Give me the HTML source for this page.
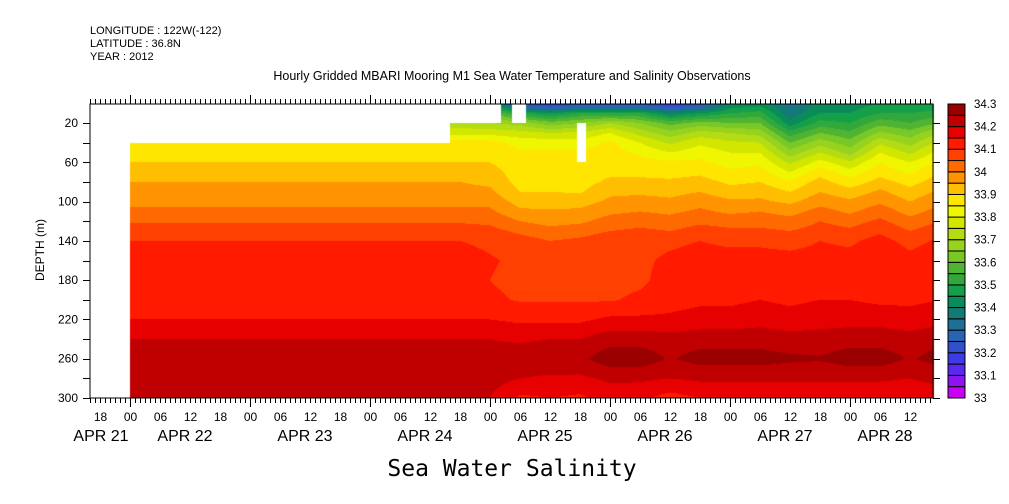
<!DOCTYPE html>
<html><head><meta charset="utf-8">
<style>
html,body{margin:0;padding:0;background:#fff;}
#wrap{position:relative;width:1009px;height:504px;overflow:hidden;font-family:"Liberation Sans",sans-serif;}
svg text{font-family:"Liberation Sans",sans-serif;fill:#000;}
canvas{position:absolute;left:0;top:0;}
</style></head>
<body>
<div id="wrap">
<canvas id="cv" width="1009" height="504"></canvas>
<svg id="sv" width="1009" height="504" style="position:absolute;left:0;top:0">
<text x="90" y="34" font-size="11">LONGITUDE : 122W(-122)</text>
<text x="90" y="47" font-size="11">LATITUDE : 36.8N</text>
<text x="90" y="60" font-size="11">YEAR : 2012</text>
<text x="512" y="80" font-size="12.5" text-anchor="middle">Hourly Gridded MBARI Mooring M1 Sea Water Temperature and Salinity Observations</text>
<text x="512" y="476" font-size="23" text-anchor="middle" style="font-family:'DejaVu Sans Mono','Liberation Mono',monospace">Sea Water Salinity</text>
<text transform="translate(44,250) rotate(-90)" font-size="12" text-anchor="middle">DEPTH (m)</text>
<g id="axes"></g>
<g id="cbar"></g>
</svg>
</div>
<script>
// ---- data ----
const depths = [0,10,20,30,40,50,60,70,80,90,100,110,120,130,140,160,180,200,220,240,260,280,300];
// hours since APR 22 00
const times = [0,60,66,72,78,84,90,96,102,108,114,120,126,132,138,144,150,156,162];
const early = [33.7,33.7,33.72,33.78,33.87,33.885,33.9,33.925,33.95,33.965,33.99,34.01,34.045,34.07,34.1,34.12,34.125,34.13,34.15,34.2,34.22,34.23,34.23];
const col72 = [33.45,33.6,33.7,33.78,33.87,33.885,33.9,33.92,33.94,33.96,33.985,34.01,34.04,34.065,34.09,34.105,34.1,34.11,34.15,34.2,34.22,34.22,34.2];
const col78 = [33.2,33.5,33.68,33.77,33.83,33.86,33.87,33.875,33.88,33.9,33.93,33.96,34.0,34.04,34.07,34.09,34.085,34.095,34.14,34.19,34.24,34.2,34.14];
const col84 = [33.15,33.45,33.62,33.75,33.83,33.86,33.87,33.875,33.885,33.9,33.93,33.955,33.98,34.02,34.05,34.09,34.08,34.095,34.14,34.2,34.245,34.19,34.15];
const col90 = [33.2,33.5,33.65,33.76,33.82,33.86,33.87,33.88,33.88,33.895,33.93,33.96,33.99,34.03,34.06,34.09,34.08,34.095,34.14,34.2,34.24,34.19,34.14];
const col96 = [33.2,33.5,33.7,33.8,33.86,33.87,33.88,33.89,33.91,33.94,33.96,33.99,34.02,34.05,34.08,34.09,34.085,34.095,34.16,34.23,34.28,34.21,34.17];
const col102 = [33.2,33.5,33.65,33.73,33.8,33.84,33.87,33.89,33.91,33.94,33.97,34.0,34.03,34.06,34.08,34.09,34.09,34.11,34.16,34.23,34.28,34.21,34.16];
const col108 = [33.15,33.4,33.58,33.67,33.74,33.8,33.86,33.88,33.91,33.935,33.96,33.99,34.02,34.05,34.09,34.11,34.12,34.13,34.16,34.22,34.245,34.2,34.13];
const col114 = [33.2,33.45,33.62,33.72,33.79,33.83,33.86,33.89,33.92,33.95,33.98,34.01,34.04,34.07,34.1,34.12,34.13,34.14,34.17,34.23,34.27,34.21,34.15];
const col120 = [33.4,33.5,33.6,33.7,33.76,33.8,33.83,33.86,33.89,33.92,33.96,33.99,34.03,34.06,34.09,34.12,34.13,34.14,34.17,34.23,34.27,34.21,34.16];
const col126 = [33.42,33.52,33.6,33.68,33.75,33.8,33.84,33.87,33.9,33.93,33.96,34.0,34.03,34.06,34.09,34.12,34.13,34.15,34.18,34.23,34.27,34.21,34.15];
const col132 = [33.33,33.36,33.42,33.52,33.6,33.67,33.74,33.8,33.86,33.9,33.94,33.98,34.02,34.05,34.08,34.12,34.13,34.14,34.17,34.22,34.26,34.21,34.15];
const col138 = [33.42,33.45,33.52,33.6,33.68,33.75,33.82,33.88,33.92,33.95,33.98,34.02,34.05,34.07,34.1,34.12,34.13,34.15,34.18,34.22,34.255,34.21,34.15];
const col144 = [33.42,33.45,33.5,33.56,33.62,33.68,33.76,33.82,33.87,33.92,33.96,33.99,34.03,34.06,34.09,34.12,34.13,34.15,34.18,34.23,34.275,34.21,34.15];
const col150 = [33.45,33.5,33.58,33.66,33.74,33.8,33.85,33.88,33.92,33.96,33.99,34.03,34.06,34.09,34.12,34.15,34.13,34.14,34.18,34.23,34.275,34.21,34.15];
const col156 = [33.45,33.5,33.55,33.62,33.68,33.74,33.8,33.84,33.88,33.92,33.95,33.98,34.02,34.05,34.08,34.12,34.13,34.14,34.17,34.22,34.245,34.2,34.15];
const col162 = [33.45,33.52,33.6,33.7,33.77,33.82,33.86,33.9,33.93,33.96,33.99,34.02,34.05,34.08,34.11,34.14,34.13,34.15,34.18,34.24,34.27,34.22,34.17];
const columns = [early,early,early,col72,col78,col84,col90,col96,col102,col108,col114,col120,col126,col132,col138,col144,col150,col156,col162];
// missing-data blocks: [t0,t1,d0,d1]
const gaps = [[0,64,0,40],[64,74.2,0,20],[76.4,79.2,0,20],[89.4,91.2,20,60]];
const levelTicks = ["33","33.1","33.2","33.3","33.4","33.5","33.6","33.7","33.8","33.9","34","34.1","34.2","34.3"];
const depthTicks = [20,60,100,140,180,220,260,300];
const dayLabels = ["APR 21","APR 22","APR 23","APR 24","APR 25","APR 26","APR 27","APR 28"];
const palette = ["#c800f5","#8c14f0","#5a28f0","#3c3ce6","#3250c8","#2864b4","#1e6e96","#147a78","#0a8c5a","#14a048","#32a83c","#50b432","#78c828","#96d21e","#b4dc14","#d2e600","#f0f500","#ffe600","#ffbf00","#ff9400","#ff6a00","#ff4000","#ff1a00","#e60000","#c00000","#9a0000"];

// ---- scales ----
const PL=90, PR=933, PT=104, PB=398;
const X0 = 130; // APR 22 00
const xOf = t => X0 + t*5;
const tOf = x => (x - X0)/5;
const yOf = d => 103.4 + d*0.982;
const dOf = y => (y - 103.4)/0.982;
const vmin=33, step=0.05;

// ---- field ----
const cv=document.getElementById('cv'), ctx=cv.getContext('2d');
ctx.fillStyle='#fff';ctx.fillRect(0,0,1009,504);
function rgb(h){return [parseInt(h.substr(1,2),16),parseInt(h.substr(3,2),16),parseInt(h.substr(5,2),16)];}
const pal=palette.map(rgb);
function seg(arr,v){let i=0;while(i<arr.length-2&&v>arr[i+1])i++;let f=(v-arr[i])/(arr[i+1]-arr[i]);return [i,Math.max(0,Math.min(1,f))];}
const img=ctx.getImageData(0,0,1009,504);
const xs=Math.max(PL,Math.ceil(xOf(times[0])));
for(let x=xs;x<=PR;x++){
  const t=tOf(x+0.5);
  const [ti,tf]=seg(times,t);
  for(let y=PT;y<PB;y++){
    const d=dOf(y+0.5);
    let gap=false;
    for(const g of gaps){if(t>=g[0]&&t<g[1]&&d>=g[2]&&d<g[3]){gap=true;break;}}
    if(gap)continue;
    const [di,df]=seg(depths,d);
    const a=columns[ti],b=columns[ti+1];
    const va=a[di]*(1-df)+a[di+1]*df, vb=b[di]*(1-df)+b[di+1]*df;
    const v=va*(1-tf)+vb*tf;
    let k=Math.floor((v-vmin)/step);k=Math.max(0,Math.min(pal.length-1,k));
    const c=pal[k],p=(y*1009+x)*4;
    img.data[p]=c[0];img.data[p+1]=c[1];img.data[p+2]=c[2];img.data[p+3]=255;
  }
}
ctx.putImageData(img,0,0);

// ---- axes ----
const NS='http://www.w3.org/2000/svg';
const axes=document.getElementById('axes');
function mk(tag,attrs,parent){const e=document.createElementNS(NS,tag);for(const k in attrs)e.setAttribute(k,attrs[k]);(parent||axes).appendChild(e);return e;}
const frame=mk('rect',{x:PL,y:PT,width:PR-PL,height:PB-PT,fill:'none',stroke:'#000','stroke-width':1});


for(let h=Math.ceil(tOf(PL));xOf(h)<=PR;h++){
  const x=Math.round(xOf(h))+0.5, major=((h%24)+24)%24===0;
  const L=major?9:5;
  const tb=mk('line',{x1:x,x2:x,y1:PB,y2:PB+L,stroke:'#000'});
  
  
  const tt=mk('line',{x1:x,x2:x,y1:PT,y2:PT-L,stroke:'#000'});
  
  
  const hh=((h%24)+24)%24;
  if(hh%6===0){
    const lb=mk('text',{x:x,y:421,'font-size':12,'text-anchor':'middle'});
    lb.textContent=(hh<10?'0':'')+hh;
    
    
  }
}
dayLabels.forEach((s,i)=>{
  const d0=xOf((i-1)*24);
  let cx=d0+55;
  if(i===0)cx=101; if(i===dayLabels.length-1)cx=885;
  const t=mk('text',{x:cx,y:441,'font-size':16,'text-anchor':'middle'});
  t.textContent=s;
  
  
});
for(let d=20;d<=300;d+=20){
  const y=Math.round(yOf(d))+0.5;
  const l=mk('line',{x1:PL-7,x2:PL,y1:y,y2:y,stroke:'#000'});
  
  
  const r=mk('line',{x1:PR,x2:PR+7,y1:y,y2:y,stroke:'#000'});
  
  
}
depthTicks.forEach(d=>{
  const t=mk('text',{x:78,y:yOf(d)+4,'font-size':12,'text-anchor':'end'});
  t.textContent=d;
  
  
});
// ---- colorbar ----
const cb=document.getElementById('cbar');
const CBX=948,CBW=17,CBT=104,CBB=398,bh=(CBB-CBT)/palette.length;
palette.forEach((c,i)=>{
  const r=mk('rect',{x:CBX,y:CBB-(i+1)*bh,width:CBW,height:bh,fill:c,stroke:'#000','stroke-width':1},cb);
  
  
});
levelTicks.forEach((s,i)=>{
  const t=mk('text',{x:974,y:CBB-i*2*bh+4,'font-size':11.5},cb);
  t.textContent=s;
  
  
});
</script>
</body></html>
